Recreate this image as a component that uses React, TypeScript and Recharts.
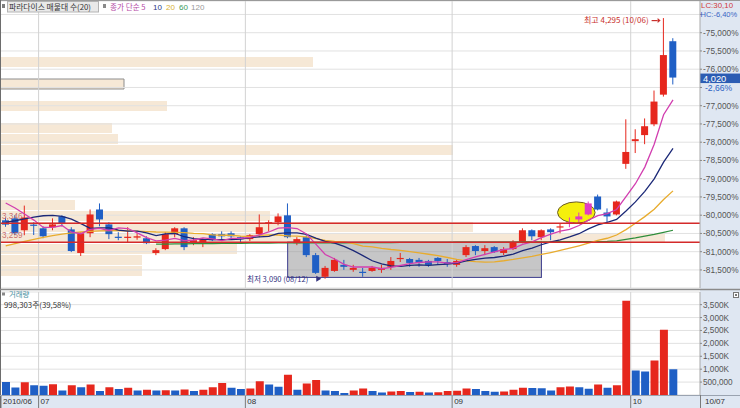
import React from 'react';
import {
  ComposedChart, BarChart, Bar, Line, XAxis, YAxis, CartesianGrid,
  ReferenceLine, ReferenceArea, ReferenceDot, Cell,
} from 'recharts';

// ---------------- data ----------------
const dates = [
  '2010/06/25', '2010/06/28', '2010/06/29', '2010/06/30',
  '2010/07/01', '2010/07/02', '2010/07/05', '2010/07/06', '2010/07/07', '2010/07/08', '2010/07/09',
  '2010/07/12', '2010/07/13', '2010/07/14', '2010/07/15', '2010/07/16',
  '2010/07/19', '2010/07/20', '2010/07/21', '2010/07/22', '2010/07/23',
  '2010/07/26', '2010/07/27', '2010/07/28', '2010/07/29', '2010/07/30',
  '2010/08/02', '2010/08/03', '2010/08/04', '2010/08/05', '2010/08/06',
  '2010/08/09', '2010/08/10', '2010/08/11', '2010/08/12', '2010/08/13',
  '2010/08/16', '2010/08/17', '2010/08/18', '2010/08/19', '2010/08/20',
  '2010/08/23', '2010/08/24', '2010/08/25', '2010/08/26', '2010/08/27',
  '2010/08/30', '2010/08/31',
  '2010/09/01', '2010/09/02', '2010/09/03',
  '2010/09/06', '2010/09/07', '2010/09/08', '2010/09/09', '2010/09/10',
  '2010/09/13', '2010/09/14', '2010/09/15', '2010/09/16', '2010/09/17',
  '2010/09/20', '2010/09/24',
  '2010/09/27', '2010/09/28', '2010/09/29', '2010/09/30',
  '2010/10/01', '2010/10/04', '2010/10/05', '2010/10/06', '2010/10/07',
];

const opens = [
  3360, 3369, 3314, 3340, 3323, 3328, 3378, 3318, 3209, 3300,
  3410, 3341, 3284, 3280, 3280, 3277, 3209, 3227, 3296, 3323,
  3259, 3259, 3296, 3296, 3300, 3282, 3273, 3296, 3346, 3351,
  3383, 3254, 3282, 3199, 3099, 3126, 3154, 3131, 3122, 3126,
  3131, 3145, 3181, 3181, 3177, 3172, 3186, 3167, 3154, 3199,
  3241, 3218, 3236, 3209, 3227, 3259, 3314, 3282, 3318, 3328,
  3346, 3364, 3387, 3470, 3396, 3387, 3621, 3726, 3754, 3804,
  3941, 4188,
];
const highs = [
  3372, 3383, 3428, 3351, 3332, 3369, 3383, 3328, 3305, 3410,
  3438, 3351, 3305, 3328, 3300, 3286, 3231, 3305, 3328, 3328,
  3282, 3277, 3300, 3309, 3309, 3286, 3296, 3387, 3360, 3392,
  3438, 3282, 3291, 3209, 3149, 3186, 3177, 3154, 3140, 3149,
  3154, 3190, 3209, 3186, 3186, 3177, 3190, 3181, 3181, 3245,
  3245, 3245, 3241, 3236, 3268, 3323, 3318, 3318, 3323, 3346,
  3373, 3396, 3447, 3479, 3415, 3451, 3827, 3781, 3831, 3960,
  4295, 4202,
];
const lows = [
  3330, 3291, 3291, 3292, 3277, 3314, 3332, 3213, 3195, 3282,
  3332, 3273, 3268, 3259, 3270, 3250, 3199, 3222, 3282, 3222,
  3245, 3236, 3264, 3268, 3277, 3254, 3264, 3282, 3309, 3337,
  3277, 3245, 3190, 3112, 3090, 3122, 3131, 3122, 3099, 3122,
  3117, 3131, 3167, 3145, 3145, 3145, 3154, 3145, 3145, 3190,
  3199, 3199, 3209, 3199, 3222, 3254, 3268, 3268, 3268, 3300,
  3328, 3351, 3383, 3406, 3351, 3383, 3598, 3671, 3712, 3795,
  3932, 3988,
];
const closes = [
  3340, 3300, 3373, 3335, 3286, 3341, 3346, 3218, 3300, 3387,
  3364, 3296, 3280, 3284, 3286, 3254, 3222, 3296, 3323, 3236,
  3268, 3273, 3268, 3286, 3286, 3273, 3291, 3328, 3351, 3378,
  3282, 3273, 3199, 3117, 3140, 3177, 3145, 3140, 3117, 3140,
  3140, 3172, 3186, 3163, 3163, 3154, 3172, 3158, 3172, 3236,
  3218, 3231, 3213, 3227, 3259, 3314, 3286, 3314, 3305, 3332,
  3351, 3378, 3438, 3410, 3378, 3447, 3676, 3735, 3795, 3909,
  4124, 4020,
];
// volume, thousand shares
const volumesK = [
  506, 291, 493, 380, 354, 417, 177, 380, 304, 405,
  152, 304, 228, 278, 177, 202, 172, 182, 176, 215,
  152, 202, 304, 468, 278, 228, 253, 531, 405, 316,
  785, 202, 443, 582, 177, 152, 76, 177, 253, 152,
  101, 139, 152, 120, 130, 98, 105, 152, 160, 253,
  228, 152, 127, 135, 202, 278, 270, 262, 177, 304,
  329, 304, 240, 405, 278, 380, 3650, 950, 910, 1340,
  2530, 998,
];
const ma5 = [
  3440, 3417, 3389, 3361, 3327, 3327, 3336, 3305, 3298, 3318,
  3323, 3313, 3325, 3322, 3302, 3280, 3265, 3268, 3276, 3266,
  3269, 3279, 3274, 3266, 3276, 3277, 3281, 3293, 3306, 3324,
  3326, 3322, 3297, 3250, 3202, 3181, 3156, 3144, 3144, 3144,
  3136, 3142, 3151, 3160, 3165, 3168, 3168, 3162, 3164, 3178,
  3191, 3203, 3214, 3225, 3230, 3249, 3260, 3280, 3296, 3310,
  3318, 3336, 3361, 3382, 3391, 3410, 3470, 3529, 3606, 3712,
  3848, 3917,
];
const ma10 = [
  3350, 3358, 3367, 3375, 3381, 3383, 3378, 3365, 3345, 3323,
  3325, 3325, 3315, 3310, 3310, 3302, 3289, 3297, 3299, 3284,
  3275, 3272, 3271, 3271, 3271, 3273, 3280, 3283, 3286, 3300,
  3302, 3302, 3295, 3278, 3263, 3254, 3239, 3220, 3197, 3173,
  3159, 3149, 3147, 3152, 3154, 3152, 3155, 3157, 3162, 3172,
  3179, 3185, 3188, 3194, 3204, 3220, 3231, 3247, 3260, 3270,
  3283, 3298, 3320, 3339, 3351, 3364, 3403, 3445, 3494, 3552,
  3629, 3693,
];
const ma20 = [
  3242, 3252, 3262, 3272, 3281, 3289, 3296, 3302, 3306, 3309,
  3311, 3312, 3312, 3311, 3310, 3308, 3306, 3305, 3304, 3303,
  3300, 3298, 3293, 3291, 3291, 3287, 3285, 3290, 3293, 3292,
  3288, 3287, 3283, 3275, 3267, 3263, 3260, 3252, 3241, 3237,
  3230, 3225, 3221, 3215, 3209, 3203, 3197, 3188, 3179, 3172,
  3169, 3167, 3168, 3173, 3179, 3186, 3193, 3202, 3211, 3221,
  3231, 3242, 3254, 3267, 3277, 3292, 3317, 3346, 3377, 3411,
  3456, 3496,
];
const ma60 = [
  null, null, null, null, null, null, null, null, null, null,
  null, null, null, null, null, null, 3250, 3250, 3251, 3251,
  3252, 3252, 3252, 3253, 3253, 3253, 3254, 3254, 3254, 3255,
  3255, 3255, 3255, 3256, 3256, 3256, 3256, 3257, 3257, 3257,
  3257, 3257, 3258, 3258, 3258, 3258, 3258, 3258, 3259, 3259,
  3259, 3259, 3259, 3259, 3259, 3260, 3260, 3260, 3260, 3261,
  3261, 3261, 3262, 3262, 3263, 3265, 3272, 3279, 3287, 3295,
  3304, 3314,
];
const highlighted = [60, 61, 62];

// volume profile (매물대), top band to bottom band, relative volume
const profileVolume = [313, 0, 124, 0, 167, 0, 112, 118, 453, 0, 0, 0, 0, 75, 270, 473, 665, 237, 142, 142];
const profileMax = 700;
const currentBand = 2;

const supportLevels = [3346, 3259];
const pctTicks = [-74500, -75000, -75500, -76000, -76500, -77000, -77500, -78000, -78500, -79000, -79500, -80000, -80500, -81000, -81500];
const pctHidden = [-74500, -76500];
const volTicks = [500, 1000, 1500, 2000, 2500, 3000, 3500];
const monthTickIdx = [0, 4, 26, 48, 67];
const monthTickLabels = ['2010/06', '07', '08', '09', '10'];
const lastPrice = 4020;
const lastChange = '-2,66%';
const boxFrom = 30;
const boxTo = 57;
const boxLow = 3096;
const boxHigh = 3259;
const ellipseFrom = 59;
const ellipseTo = 62;
const ellipseLow = 3347;
const ellipseHigh = 3445;

// ---------------- helpers ----------------
const RED = '#e6271d';
const BLUE = '#1f5fc5';
const HL = '#df3dc2';
const GRID = '#e1e1e1';
const VGRID = '#d2d2d2';
const AXIS_BG = '#dfe7f2';
const BEIGE = '#f6e8d6';
const FONT_NUM = "'Liberation Sans', Arial, sans-serif";
const FONT_KR = "'Noto Sans CJK KR', 'Liberation Sans', sans-serif";
const PAD_R = 22.3;

const comma = (n: number) => String(n).replace(/\B(?=(\d{3})+(?!\d))/g, ',');

const rows = dates.map((d, i) => ({
  date: d,
  open: opens[i],
  high: highs[i],
  low: lows[i],
  close: closes[i],
  range: [lows[i], highs[i]],
  volume: volumesK[i],
  volUp: i > 0 && volumesK[i] > volumesK[i - 1],
  ma5: ma5[i],
  ma10: ma10[i],
  ma20: ma20[i],
  ma60: ma60[i],
  hl: highlighted.includes(i),
}));

const profileRows = profileVolume.map((v, i) => ({ band: `b${i}`, vol: v }));

let hiIdx = 0;
let loIdx = 0;
highs.forEach((h, i) => { if (h > highs[hiIdx]) hiIdx = i; });
lows.forEach((l, i) => { if (l < lows[loIdx]) loIdx = i; });
const hiText = `최고 ${comma(highs[hiIdx])} (${dates[hiIdx].slice(5)})`;
const loText = `최저 ${comma(lows[loIdx])} (${dates[loIdx].slice(5)})`;

const Candle = (p: any) => {
  const { x, y, width, height, payload } = p;
  if (x == null || y == null || !payload) return null;
  const { open, close, high, low, hl } = payload;
  const span = high - low || 1;
  const py = (v: number) => y + ((high - v) / span) * height;
  const color = hl ? HL : close >= open ? RED : BLUE;
  const top = py(Math.max(open, close));
  const bot = py(Math.min(open, close));
  const cx = x + width / 2;
  return (
    <g>
      <line x1={cx} x2={cx} y1={y} y2={y + height} stroke={color} strokeWidth={1} />
      <rect x={x} y={top} width={width} height={Math.max(bot - top, 1.2)} fill={color} />
    </g>
  );
};

// box spans band centre to band centre
const BoxShape = (p: any) => {
  const bw = p.width / (boxTo - boxFrom + 1);
  return (
    <rect x={p.x + bw / 2} y={p.y} width={p.width - bw} height={p.height}
      fill="#8d8d8f" fillOpacity={0.5} stroke="#3d3d8e" strokeWidth={1} />
  );
};

const EllipseShape = (p: any) => (
  <ellipse cx={p.x + p.width / 2 + 2} cy={p.y + p.height / 2} rx={p.width / 2} ry={p.height / 2}
    fill="#f5ef0c" stroke="#6a5b22" strokeWidth={1} />
);

const PctTick = (p: any) => {
  const { x, y, payload } = p;
  if (pctHidden.includes(payload.value)) return null;
  return (
    <text x={x} y={y + 3} fontSize={8.3} fill="#555" fontFamily={FONT_NUM}>
      {`-${comma(Math.abs(payload.value))}%`}
    </text>
  );
};

const VolTick = (p: any) => {
  const { x, y, payload } = p;
  const v = payload.value;
  const label = v < 1000 ? comma(v * 1000) : `${comma(v)}K`;
  return (
    <text x={x} y={y + 3} fontSize={8.2} fill="#555" fontFamily={FONT_NUM}>
      {label}
    </text>
  );
};

const levelLabel = (text: string) => (props: any) => {
  const vb = props.viewBox || {};
  return (
    <text x={(vb.x || 0) + 1} y={(vb.y || 0) - 4.5} fontSize={8.2} fill="#c25656" fillOpacity={0.85}
      fontFamily={FONT_NUM}>
      {text}
    </text>
  );
};

const priceTag = (props: any) => {
  const vb = props.viewBox || {};
  const x = (vb.x || 0) + (vb.width || 0);
  const y = vb.y || 0;
  return (
    <g>
      <rect x={x} y={y - 4} width={40} height={9.5} fill="#2b5cb3" />
      <text x={x + 3} y={y + 4} fontSize={9.3} fill="#fff" fontFamily={FONT_NUM}>{comma(lastPrice)}</text>
      <text x={x + 5} y={y + 13.8} fontSize={8.6} fill="#2e63c4" fontFamily={FONT_NUM}>{lastChange}</text>
    </g>
  );
};

const stripLabel = (text: string) => (props: any) => {
  const vb = props.viewBox || {};
  const x = vb.x || 0;
  const yb = (vb.y || 0) + (vb.height || 0);
  return (
    <g>
      <line x1={x} x2={x} y1={yb} y2={yb + 13} stroke="#7a7a7a" strokeWidth={1} />
      <text x={x + 2} y={yb + 9.4} fontSize={8} fill="#333" fontFamily={FONT_NUM}>{text}</text>
    </g>
  );
};

const HighMark = (p: any) => {
  const { cx, cy } = p;
  const c = '#c9302c';
  return (
    <g>
      <text x={cx - 15} y={cy + 5} textAnchor="end" fontSize={8} fill={c} fontFamily={FONT_KR}>{hiText}</text>
      <line x1={cx - 12} x2={cx - 6} y1={cy + 2.5} y2={cy + 2.5} stroke={c} strokeWidth={1.2} />
      <path d={`M${cx - 6},${cy} L${cx - 3},${cy + 2.5} L${cx - 6},${cy + 5} Z`} fill={c} />
    </g>
  );
};

const LowMark = (p: any) => {
  const { cx, cy } = p;
  const c = '#33337f';
  return (
    <g>
      <text x={cx - 17} y={cy + 2.8} textAnchor="end" fontSize={7.6} fill={c} fontFamily={FONT_KR}>{loText}</text>
      <path d={`M${cx - 9},${cy - 3} L${cx - 4},${cy} L${cx - 9},${cy + 3} Z`} fill={c} />
    </g>
  );
};

const T = ({ x, y, size = 8, fill = '#444', font = FONT_NUM, children }: any) => (
  <text x={x} y={y} fontSize={size} fill={fill} fontFamily={font}>{children}</text>
);

export default function App() {
  return (
    <div style={{ position: 'absolute', left: 0, top: 0, width: 740, height: 408, background: '#fff', overflow: 'hidden' }}>
      <div style={{ position: 'absolute', left: 700, top: 0, width: 40, height: 408, background: AXIS_BG }} />
      <div style={{ position: 'absolute', left: 0, top: 395, width: 740, height: 13, background: AXIS_BG }} />

      {/* volume profile (매물대) */}
      <div style={{ position: 'absolute', left: 0, top: 0 }}>
        <BarChart width={700} height={288} data={profileRows} layout="vertical"
          margin={{ top: 56, right: 0, bottom: 12, left: 0 }}>
          <XAxis type="number" domain={[0, profileMax]} hide />
          <YAxis type="category" dataKey="band" hide />
          <Bar dataKey="vol" barSize={10} isAnimationActive={false}>
            {profileRows.map((r, i) => (
              <Cell key={r.band} fill={BEIGE} stroke={i === currentBand ? '#8d8d8d' : 'none'} strokeWidth={1} />
            ))}
          </Bar>
        </BarChart>
      </div>

      {/* price panel */}
      <div style={{ position: 'absolute', left: 0, top: 0 }}>
        <ComposedChart width={740} height={290} data={rows} margin={{ top: 1, right: 0, bottom: 2, left: 1 }}>
          <CartesianGrid yAxisId="pct" vertical={false} stroke={GRID} />
          <XAxis dataKey="date" hide padding={{ left: 0, right: PAD_R }} />
          <YAxis yAxisId="price" hide type="number" domain={[3047, 4374]} allowDataOverflow />
          <YAxis yAxisId="pct" orientation="right" width={40} type="number" domain={[-81995, -74131]}
            allowDataOverflow ticks={pctTicks} interval={0} tick={PctTick} tickSize={2} tickMargin={1}
            tickLine={{ stroke: '#888' }} axisLine={{ stroke: '#a9a9a9' }} />
          {monthTickIdx.slice(1).map((k) => (
            <ReferenceLine key={`m${k}`} yAxisId="price" x={dates[k]} position="start" stroke={VGRID} strokeWidth={1} />
          ))}
          <ReferenceArea yAxisId="price" x1={dates[boxFrom]} x2={dates[boxTo]} y1={boxLow} y2={boxHigh}
            shape={BoxShape} />
          <ReferenceArea yAxisId="price" x1={dates[ellipseFrom]} x2={dates[ellipseTo]} y1={ellipseLow} y2={ellipseHigh}
            shape={EllipseShape} />
          <Bar yAxisId="price" dataKey="range" barSize={7} shape={Candle} isAnimationActive={false} />
          <Line yAxisId="price" dataKey="ma60" stroke="#2f8e3b" strokeWidth={1.2} dot={false} isAnimationActive={false} />
          <Line yAxisId="price" dataKey="ma20" stroke="#e8ac2e" strokeWidth={1.3} dot={false} isAnimationActive={false} />
          <Line yAxisId="price" dataKey="ma10" stroke="#1b2877" strokeWidth={1.3} dot={false} isAnimationActive={false} />
          <Line yAxisId="price" dataKey="ma5" stroke="#d23fb0" strokeWidth={1.3} dot={false} isAnimationActive={false} />
          {supportLevels.map((lv) => (
            <ReferenceLine key={`l${lv}`} yAxisId="price" y={lv} stroke="#d42a2a" strokeWidth={1.5}
              label={levelLabel(comma(lv))} />
          ))}
          <ReferenceLine yAxisId="price" y={lastPrice} stroke="none" label={priceTag} />
          <ReferenceDot yAxisId="price" x={dates[hiIdx]} y={highs[hiIdx]} r={1} shape={HighMark} />
          <ReferenceDot yAxisId="price" x={dates[loIdx]} y={lows[loIdx]} r={1} shape={LowMark} />
        </ComposedChart>
      </div>

      {/* volume panel */}
      <div style={{ position: 'absolute', left: 0, top: 290 }}>
        <ComposedChart width={740} height={118} data={rows} margin={{ top: 2, right: 0, bottom: 13, left: 1 }}>
          <CartesianGrid yAxisId="vol" vertical={false} stroke={GRID} />
          <XAxis dataKey="date" hide padding={{ left: 0, right: PAD_R }} />
          <YAxis yAxisId="vol" orientation="right" width={40} type="number" domain={[0, 3990]}
            allowDataOverflow ticks={volTicks} interval={0} tick={VolTick} tickSize={2} tickMargin={1}
            tickLine={{ stroke: '#888' }} axisLine={{ stroke: '#a9a9a9' }} />
          {monthTickIdx.map((k, j) => (
            <ReferenceLine key={`v${k}`} yAxisId="vol" x={dates[k]} position="start"
              stroke={j === 0 ? 'none' : VGRID} strokeWidth={1} label={stripLabel(monthTickLabels[j])} />
          ))}
          <Bar yAxisId="vol" dataKey="volume" barSize={8} isAnimationActive={false}>
            {rows.map((r) => (
              <Cell key={r.date} fill={r.volUp ? RED : BLUE} />
            ))}
          </Bar>
        </ComposedChart>
      </div>

      {/* static chrome and legends */}
      <svg width={740} height={408} style={{ position: 'absolute', left: 0, top: 0, pointerEvents: 'none' }}>
        <line x1={0} x2={740} y1={0.5} y2={0.5} stroke="#9a9a9a" />
        <line x1={0.5} x2={0.5} y1={0} y2={408} stroke="#6d6d6d" />
        <line x1={0} x2={740} y1={289.5} y2={289.5} stroke="#8a8a8a" strokeWidth={1.5} />
        <line x1={0} x2={740} y1={395.5} y2={395.5} stroke="#9aa3b0" strokeWidth={1} />
        <line x1={700.5} x2={700.5} y1={395} y2={408} stroke="#7a7a7a" />
        <T x={705} y={404.4} fill="#333">{dates[dates.length - 1].slice(5)}</T>

        {/* price legend */}
        <rect x={2} y={4} width={3} height={4} fill="#7d7d7d" />
        <rect x={7.5} y={1.5} width={91} height={10.5} fill="#e9e9e9" stroke="#b3b3b3" />
        <T x={9} y={9.6} size={7.8} fill="#333" font={FONT_KR}>파라다이스 매물대 수(20)</T>
        <rect x={103} y={4} width={3} height={4} fill="#8a8a8a" />
        <T x={110} y={9.6} size={7.6} fill="#b64aa6" font={FONT_KR}>종가 단순 5</T>
        <T x={153} y={9.6} fill="#2b3a86">10</T>
        <T x={166} y={9.6} fill="#d9b234">20</T>
        <T x={179} y={9.6} fill="#3c9c5c">60</T>
        <T x={191} y={9.6} fill="#9a9a9a">120</T>

        {/* right-axis header */}
        <T x={701} y={8} size={7.9} fill="#d23a3a">LC:30,10</T>
        <T x={700.5} y={16.5} size={7.5} fill="#3a66c4">HC:-6,40%</T>

        {/* volume legend */}
        <rect x={2} y={292.5} width={3} height={3} fill="#888" />
        <T x={9} y={297.2} size={7.4} fill="#3f8fa0" font={FONT_KR}>거래량</T>
        <T x={4} y={307.6} size={7.8} fill="#333" font={FONT_KR}>998,303주(39,58%)</T>
        <rect x={733.5} y={292.5} width={5} height={5} fill="#fff" stroke="#777" />
        <rect x={735} y={294} width={2} height={2} fill="#777" />
      </svg>
    </div>
  );
}
